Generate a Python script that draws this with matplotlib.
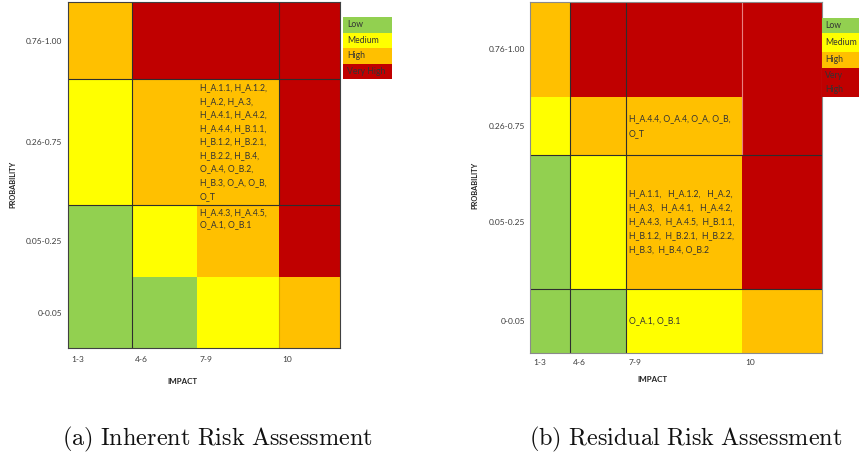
import matplotlib
matplotlib.use('Agg')
import matplotlib.pyplot as plt
import matplotlib.transforms as mtransforms
from matplotlib.colors import ListedColormap

# ---------------- data ----------------
risk_levels = ['Low', 'Medium', 'High', 'Very High']
risk_colors = ['#92D050', '#FFFF00', '#FFC000', '#C00000']
probability_labels = ['0-0.05', '0.05-0.25', '0.26-0.75', '0.76-1.00']   # bottom -> top
impact_labels = ['1-3', '4-6', '7-9', '10']

# risk level index per cell, rows bottom -> top, columns left -> right
inherent_grid = [[0, 0, 1, 2],
                 [0, 1, 2, 3],
                 [1, 2, 2, 3],
                 [2, 3, 3, 3]]
residual_grid = [[0, 0, 1, 2],
                 [0, 1, 2, 3],
                 [1, 2, 2, 3],
                 [2, 3, 3, 3]]

# cell extents of the two (unevenly sized) matrices
inherent_col_edges = [0, 64, 129, 211, 272]
inherent_row_edges = [0, 71, 143, 269, 346]
residual_col_edges = [0, 40, 96, 212, 292]
residual_row_edges = [0, 64, 198, 256, 351]

inherent_items = {
    (2, 2): "H_A.1.1, H_A.1.2,\nH_A.2, H_A.3,\nH_A.4.1, H_A.4.2,\nH_A.4.4, H_B.1.1,\n"
            "H_B.1.2, H_B.2.1,\nH_B.2.2, H_B.4,\nO_A.4, O_B.2,\nH_B.3, O_A, O_B,\nO_T",
    (1, 2): "H_A.4.3, H_A.4.5,\nO_A.1, O_B.1",
}
residual_items = {
    (2, 2): "H_A.4.4, O_A.4, O_A, O_B,\nO_T",
    (1, 2): "H_A.1.1,   H_A.1.2,   H_A.2,\nH_A.3,   H_A.4.1,   H_A.4.2,\nH_A.4.3,  H_A.4.5,  H_B.1.1,\n"
            "H_B.1.2,  H_B.2.1,  H_B.2.2,\nH_B.3,  H_B.4, O_B.2",
    (0, 2): "O_A.1, O_B.1",
}

captions = ['(a) Inherent Risk Assessment', '(b) Residual Risk Assessment']

# ---------------- figure ----------------
W, H = 859, 457
fig = plt.figure(figsize=(W / 100, H / 100), dpi=100)
plt.rcParams['font.family'] = ['Lato', 'DejaVu Sans']
plt.rcParams['mathtext.fontset'] = 'cm'

cmap = ListedColormap(risk_colors)
TXT = '#333333'
TICK = '#3c3c3c'


def px_rect(x0, y0, w, h):
    return [x0 / W, 1 - (y0 + h) / H, w / W, h / H]


def matrix(rect, col_edges, row_edges, grid, items, vlines, hlines, top_align,
           spine_color, ypad, xpad, xoff, spacing):
    ax = fig.add_axes(px_rect(*rect))
    ax.pcolormesh(col_edges, row_edges, grid, cmap=cmap, vmin=-0.5, vmax=3.5)
    ax.set_xlim(col_edges[0], col_edges[-1])
    ax.set_ylim(row_edges[0], row_edges[-1])
    centers = [(row_edges[i] + row_edges[i + 1]) / 2 for i in range(len(row_edges) - 1)]
    ax.set_yticks(centers)
    ax.set_yticklabels(probability_labels, fontsize=6, color=TICK)
    ax.set_xticks(col_edges[:-1])
    ax.set_xticklabels(impact_labels, fontsize=6, color=TICK)
    ax.tick_params(length=0)
    ax.tick_params(axis='y', pad=ypad)
    ax.tick_params(axis='x', pad=xpad)
    off = mtransforms.ScaledTranslation(xoff / 100, 0, fig.dpi_scale_trans)
    for lab in ax.get_xticklabels():
        lab.set_ha('left')
        lab.set_transform(lab.get_transform() + off)
    for (ci, r0, r1, c) in vlines:
        ax.plot([col_edges[ci]] * 2, [row_edges[r0], row_edges[r1]], color=c, lw=0.8)
    for (ri, c0, c1, c) in hlines:
        ax.plot([col_edges[c0], col_edges[c1]], [row_edges[ri]] * 2, color=c, lw=0.8)
    for sp in ax.spines.values():
        sp.set_color(spine_color)
        sp.set_linewidth(0.8)
    for (r, c), s in items.items():
        x = col_edges[c] + 3
        ls = spacing.get((r, c), 1.7)
        if (r, c) in top_align:
            ax.text(x, row_edges[r + 1] - 3, s, fontsize=6.2, color=TXT, va='top', ha='left',
                    linespacing=ls)
        else:
            ax.text(x, (row_edges[r] + row_edges[r + 1]) / 2, s, fontsize=6.2, color=TXT,
                    va='center', ha='left', linespacing=ls)
    return ax


def legend(rect, row_edges, labels):
    ax = fig.add_axes(px_rect(*rect))
    ax.pcolormesh([0, 1], row_edges, [[3], [2], [1], [0]], cmap=cmap, vmin=-0.5, vmax=3.5)
    ax.set_xlim(0, 1)
    ax.set_ylim(row_edges[0], row_edges[-1])
    ax.axis('off')
    for i, lab in enumerate(labels):
        yc = (row_edges[3 - i] + row_edges[4 - i]) / 2
        ax.text(0.08, yc, lab, fontsize=6.2, color='#333333', va='center', ha='left',
                linespacing=1.6)


DARK = '#2e2e2e'
# (a) inherent
matrix((68, 2, 272, 346), inherent_col_edges, inherent_row_edges, inherent_grid, inherent_items,
       vlines=[(1, 0, 4, DARK), (3, 2, 4, DARK), (3, 0, 1, '#D9A400')],
       hlines=[(2, 0, 4, DARK), (3, 0, 4, DARK)],
       top_align={(1, 2)}, spine_color='#404040', ypad=4.3, xpad=5.5, xoff=3,
       spacing={(2, 2): 1.65, (1, 2): 1.5})
legend((343, 17, 49, 62), [0, 15.5, 31, 46.5, 62], risk_levels)

# (b) residual
matrix((530, 2, 292, 351), residual_col_edges, residual_row_edges, residual_grid, residual_items,
       vlines=[(1, 0, 4, DARK), (2, 0, 4, DARK), (3, 2, 4, '#E88080')],
       hlines=[(1, 0, 4, DARK), (2, 0, 4, DARK)],
       top_align=set(), spine_color='#8a8a8a', ypad=3.6, xpad=4.3, xoff=3,
       spacing={(2, 2): 1.8, (1, 2): 1.72})
legend((822, 18, 40, 79), [0, 29, 45, 64, 79], ['Low', 'Medium', 'High', 'Very\nHigh'])

# axis titles
for (x, y) in [(182, 382), (652, 379)]:
    fig.text(x / W, 1 - y / H, 'IMPACT', fontsize=5.7, fontweight='bold', color='#222222',
             ha='center', va='center')
for (x, y) in [(13, 184), (475, 185)]:
    fig.text(x / W, 1 - y / H, 'PROBABILITY', fontsize=5.3, fontweight='bold', color='#222222',
             ha='center', va='center', rotation=90)

# captions
for (x, s) in zip([218, 686], captions):
    fig.text(x / W, 1 - 439 / H, r'$\mathrm{' + s.replace(' ', r'\ ') + '}$', fontsize=17.5,
             color='#111111', ha='center', va='center')

fig.savefig('out.png', dpi=100)
